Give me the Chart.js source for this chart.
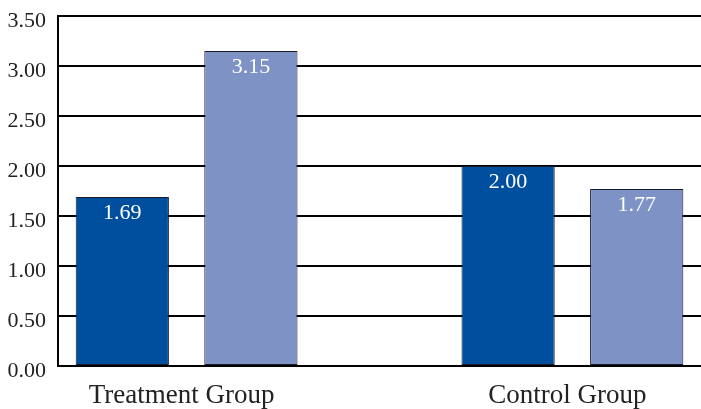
<!DOCTYPE html>
<html>

<head>
    <title>Treatment vs Control</title>
    <style>
        body {
            margin: 0;
            background: #fff;
        }

        #canvas-container {
            position: relative;
            width: 701px;
            height: 409px;
        }
    </style>
    <script src="https://cdn.jsdelivr.net/npm/chart.js"></script>
</head>

<body>
    <div id="canvas-container">
        <canvas id="myChart"></canvas>
    </div>

    <script>
        // Values
        const groups = ['Treatment Group', 'Control Group'];
        const firstSeries = [1.69, 2.00];
        const secondSeries = [3.15, 1.77];
        const yTickValues = [0, 0.5, 1, 1.5, 2, 2.5, 3, 3.5];

        const serif = "'Liberation Serif', 'Times New Roman', serif";

        // White value labels inside the top of each bar
        const valueLabels = {
            id: 'valueLabels',
            afterDatasetsDraw(chart) {
                const ctx = chart.ctx;
                ctx.save();
                ctx.fillStyle = '#ffffff';
                ctx.font = '22px ' + serif;
                ctx.textAlign = 'center';
                ctx.textBaseline = 'alphabetic';
                chart.data.datasets.forEach((ds, i) => {
                    chart.getDatasetMeta(i).data.forEach((bar, j) => {
                        ctx.fillText(ds.data[j].y.toFixed(2), bar.x, bar.y + 22);
                    });
                });
                ctx.restore();
            }
        };

        const canvas = document.getElementById('myChart');
        const ctx = canvas.getContext('2d');

        const myChart = new Chart(ctx, {
            type: 'bar',
            data: {
                datasets: [{
                    label: 'Series 1',
                    data: firstSeries.map((v, i) => ({ x: i, y: v })),
                    backgroundColor: '#004f9f',
                    borderColor: '#1a1a2a',
                    borderWidth: 1,
                    borderSkipped: false
                }, {
                    label: 'Series 2',
                    data: secondSeries.map((v, i) => ({ x: i, y: v })),
                    backgroundColor: '#7f92c6',
                    borderColor: '#1a1a2a',
                    borderWidth: 1,
                    borderSkipped: false
                }]
            },
            options: {
                responsive: true,
                maintainAspectRatio: false,
                animation: false,
                categoryPercentage: 2 / 3,
                barPercentage: 0.725,
                layout: {
                    padding: { left: 7, right: 0, top: 16, bottom: 0 }
                },
                plugins: {
                    legend: { display: false },
                    tooltip: { enabled: false }
                },
                scales: {
                    x: {
                        type: 'linear',
                        offset: false,
                        min: -1 / 3,
                        max: 4 / 3,
                        afterBuildTicks: (scale) => {
                            scale.ticks = groups.map((g, i) => ({ value: i }));
                        },
                        afterFit: (scale) => {
                            scale.height = 43;
                            scale.paddingLeft = 0;
                            scale.paddingRight = 0;
                        },
                        grid: { display: false, drawTicks: false },
                        border: { display: false },
                        ticks: {
                            autoSkip: false,
                            maxRotation: 0,
                            padding: 14,
                            labelOffset: -5,
                            color: '#222',
                            font: { family: serif, size: 27 },
                            callback: (v) => groups[v]
                        }
                    },
                    y: {
                        min: 0,
                        max: 3.5,
                        afterBuildTicks: (scale) => {
                            scale.ticks = yTickValues.map(v => ({ value: v }));
                        },
                        afterFit: (scale) => {
                            scale.width = 51;
                            scale.paddingTop = 0;
                            scale.paddingBottom = 0;
                        },
                        grid: { color: '#000', lineWidth: 2, drawTicks: false },
                        border: { color: '#000', width: 2 },
                        ticks: {
                            padding: 12,
                            labelOffset: 5,
                            color: '#222',
                            font: { family: serif, size: 22 },
                            callback: (v) => v.toFixed(2)
                        }
                    }
                }
            },
            plugins: [valueLabels]
        });
    </script>
</body>

</html>
